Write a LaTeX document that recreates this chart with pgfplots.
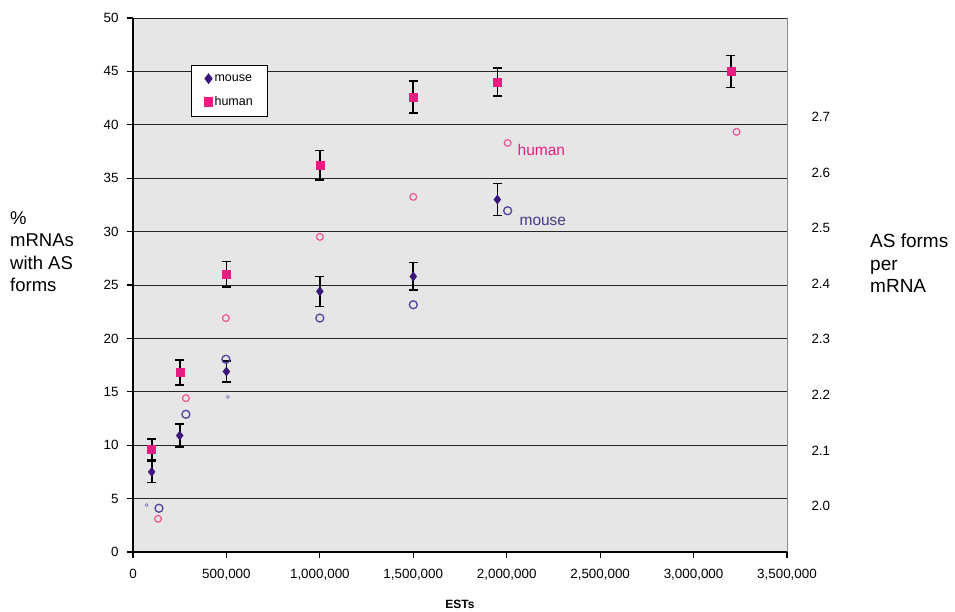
\documentclass[border=0pt]{standalone}
\usepackage{fontspec}
\setmainfont{Liberation Sans}
\usepackage{pgfplots}
\pgfplotsset{compat=1.18}

\definecolor{mousec}{RGB}{58,22,120}
\definecolor{humanc}{RGB}{230,30,130}
\definecolor{mousecirc}{RGB}{85,65,160}
\definecolor{humancirc}{RGB}{240,85,150}
\definecolor{plotbg}{RGB}{230,230,230}

\begin{document}
\begin{tikzpicture}
  \pgfplotsset{
    every axis/.append style={
      scale only axis, width=654pt, height=534pt,
      at={(0pt,0pt)}, anchor=south west,
      xmin=0, xmax=3500000,
      tick label style={font=\fontsize{13.4}{15}\selectfont},
      /pgf/number format/assume math mode=true,
    },
  }
  % left axis: % mRNAs with AS forms
  \begin{axis}[
      axis background/.style={fill=plotbg},
      axis x line*=bottom,
      axis y line*=left,
      axis line style={black, line width=1.2pt},
      ymin=0, ymax=50,
      ytick={0,5,...,50},
      xtick={0,500000,...,3500000},
      scaled x ticks=false,
      xticklabel style={/pgf/number format/fixed, /pgf/number format/1000 sep={,}, yshift=-8pt},
      yticklabel style={xshift=-5pt},
      tick align=outside,
      major tick length=6pt,
      tick style={black, line width=1.1pt},
      ymajorgrids,
      grid style={black!85, line width=0.9pt},
      legend style={at={(0.0887,0.912)}, anchor=north west, draw=black,
        line width=1.1pt, fill=white, font=\fontsize{12.5}{14}\selectfont,
        inner xsep=13pt, inner ysep=7pt, row sep=10pt},
      legend cell align=left,
      error bars/error bar style={black, line width=1.7pt},
      error bars/error mark options={black, line width=1.7pt, mark size=4.5pt, rotate=90},
    ]
    \addplot[only marks, mark=diamond*, mark size=4.6pt, color=mousec,
      error bars/.cd, y dir=both, y explicit]
    coordinates {
      (100000,7.5)  +- (0,1.0)
      (250000,10.9) +- (0,1.1)
      (500000,16.9) +- (0,1.0)
      (1000000,24.4) +- (0,1.4)
      (1500000,25.8) +- (0,1.3)
      (1950000,33.0) +- (0,1.5)
    };
    \addlegendentry{mouse}

    \addplot[only marks, mark=square*, mark size=4.0pt, color=humanc,
      error bars/.cd, y dir=both, y explicit]
    coordinates {
      (100000,9.6)  +- (0,1.0)
      (250000,16.8) +- (0,1.15)
      (500000,26.0) +- (0,1.2)
      (1000000,36.2) +- (0,1.4)
      (1500000,42.6) +- (0,1.5)
      (1950000,44.0) +- (0,1.3)
      (3200000,45.0) +- (0,1.5)
    };
    \addlegendentry{human}

    \node[anchor=west, text=humanc, font=\fontsize{15.5}{17}\selectfont]
      at (axis cs:2040000,37.6) {human};
    \node[anchor=west, text=mousecirc!85!black, font=\fontsize{15.5}{17}\selectfont]
      at (axis cs:2050000,31.0) {mouse};
  \end{axis}

  % right axis: AS forms per mRNA
  \begin{axis}[
      axis x line=none,
      axis y line*=right,
      axis line style={black!45, line width=1pt},
      ymin=1.9173, ymax=2.8777,
      ytick={2.0,2.1,2.2,2.3,2.4,2.5,2.6,2.7},
      major tick length=0pt,
      yticklabel style={/pgf/number format/fixed, /pgf/number format/fixed zerofill,
        /pgf/number format/precision=1, xshift=21pt},
    ]
    \addplot[only marks, mark=o, mark size=4.0pt, mark options={line width=1.3pt}, color=mousecirc]
    coordinates {
      (139000,1.996) (283000,2.165) (497000,2.264)
      (1000000,2.338) (1500000,2.362) (2005000,2.531)
    };
    \addplot[only marks, mark=o, mark size=3.4pt, mark options={line width=1.2pt}, color=humancirc]
    coordinates {
      (134000,1.977) (283000,2.194) (497000,2.338)
      (1000000,2.484) (1500000,2.556) (2005000,2.653) (3230000,2.673)
    };
    \addplot[only marks, mark=o, mark size=1.5pt, mark options={line width=0.7pt}, color=mousecirc!70]
    coordinates {
      (73000,2.002) (508000,2.196)
    };
  \end{axis}

  \node[anchor=north west, align=left, font=\fontsize{18.5}{22.5}\selectfont, inner sep=0pt]
    at (-123pt,341pt) {\%\\mRNAs\\with AS\\forms};
  \node[anchor=north west, align=left, font=\fontsize{19}{22.5}\selectfont, inner sep=0pt]
    at (737pt,318pt) {AS forms\\per\\mRNA};
  \node[font=\bfseries\fontsize{12}{14}\selectfont] at (327pt,-52pt) {ESTs};

  \path[use as bounding box] (-133pt,-58pt) rectangle (822pt,552pt);
\end{tikzpicture}
\end{document}
